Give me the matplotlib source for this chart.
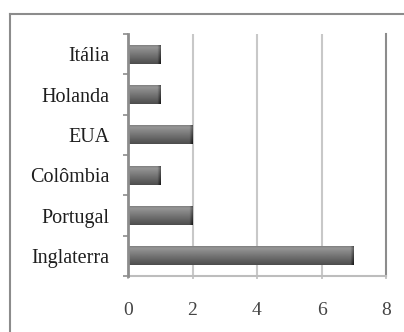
import numpy as np
import matplotlib
matplotlib.use("Agg")
import matplotlib.pyplot as plt
from matplotlib.lines import Line2D

categories = ["Inglaterra", "Portugal", "Colômbia", "EUA", "Holanda", "Itália"]
values = [7, 2, 1, 2, 1, 1]
xticks = [0, 2, 4, 6, 8]

plt.rcParams['font.family'] = ['Liberation Serif', 'DejaVu Serif']

fig = plt.figure(figsize=(4.04, 3.32), dpi=100)
W, H = 404, 332
ax = fig.add_axes([128 / W, 1 - 276 / H, (386 - 128) / W, (276 - 34) / H])

# outer chart border (extends past right/bottom edges)
fig.add_artist(Line2D([10 / W, 10 / W], [1 - 14 / H, -0.1], color="#8c8c8c", lw=1.5, transform=fig.transFigure))
fig.add_artist(Line2D([10 / W, 1.1], [1 - 14 / H, 1 - 14 / H], color="#8c8c8c", lw=1.5, transform=fig.transFigure))

y = np.arange(len(categories))
bh = 0.47

# gradient bars
vert = np.linspace(0, 1, 40)
shade = 0.30 + 0.32 * vert  # top dark -> bottom lighter
shade = np.where(vert > 0.9, shade - (vert - 0.9) * 1.2, shade)
for yi, v in zip(y, values):
    ncols = int(v * 60)
    img = np.tile(shade[:, None], (1, ncols))
    endw = max(int(60 * 0.13), 1)
    ramp = np.linspace(0, 0.22, endw)
    img[:, -endw:] = img[:, -endw:] - ramp[None, :]
    img = np.clip(img, 0, 1)
    ax.imshow(img, cmap="gray", vmin=0, vmax=1, aspect="auto",
              extent=(0, v, yi + bh / 2, yi - bh / 2), interpolation="bilinear", zorder=3)

ax.set_aspect("auto")
ax.set_xlim(0, 8)
ax.set_ylim(-0.5, len(categories) - 0.5)

# gridlines
for xv in xticks[1:-1]:
    ax.axvline(xv, color="#c8c8c8", lw=1.5, zorder=1)

ax.spines["top"].set_visible(False)
ax.spines["right"].set_color("#8c8c8c")
ax.spines["right"].set_linewidth(1.5)
ax.spines["left"].set_color("#8c8c8c")
ax.spines["left"].set_linewidth(2.0)
ax.spines["left"].set_zorder(4)
ax.spines["bottom"].set_color("#bdbdbd")
ax.spines["bottom"].set_linewidth(1.5)

ax.set_xticks(xticks)
ax.set_xticklabels([str(t) for t in xticks])
ax.tick_params(axis="x", length=2.5, width=1.2, color="#bdbdbd", pad=16, labelsize=14, labelcolor="#444444")

ax.set_yticks(y)
ax.set_yticklabels(categories)
ax.tick_params(axis="y", which="major", length=0, pad=13.5, labelsize=14.5, labelcolor="#1e1e1e")
ax.set_yticks(np.arange(-0.5, len(categories), 1.0), minor=True)
ax.tick_params(axis="y", which="minor", length=3.5, width=1.2, color="#8c8c8c", direction="out")

fig.savefig("out.png", dpi=100)
